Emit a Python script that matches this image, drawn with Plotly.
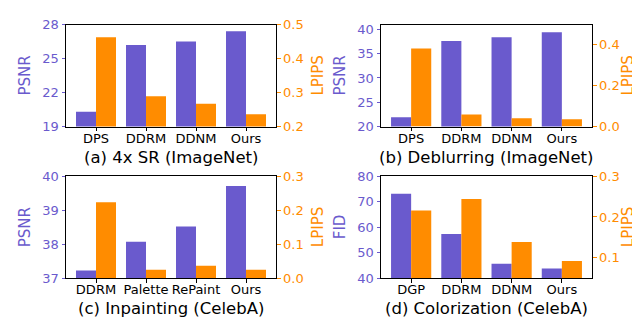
import plotly.graph_objects as go

PURPLE = "#6A5ACD"
ORANGE = "#FF8C00"

# ---- data ----
cats_a = ["DPS", "DDRM", "DDNM", "Ours"]
psnr_a = [20.3, 26.2, 26.5, 27.4]
lpips_a = [0.463, 0.289, 0.267, 0.236]

cats_b = ["DPS", "DDRM", "DDNM", "Ours"]
psnr_b = [21.9, 37.6, 38.4, 39.4]
lpips_b = [0.380, 0.059, 0.040, 0.036]

cats_c = ["DDRM", "Palette", "RePaint", "Ours"]
psnr_c = [37.23, 38.07, 38.52, 39.71]
lpips_c = [0.223, 0.025, 0.037, 0.025]

cats_d = ["DGP", "DDRM", "DDNM", "Ours"]
fid_d = [73.1, 57.3, 45.7, 43.8]
lpips_d = [0.216, 0.244, 0.139, 0.092]

left_ranges = [[19, 28], [20, 41], [37, 40], [40, 80]]
left_ticks = [[19, 22, 25, 28], [20, 25, 30, 35, 40], [37, 38, 39, 40], [40, 50, 60, 70, 80]]
right_ranges = [[0.2, 0.5], [0.0, 0.496], [0.0, 0.3], [0.05, 0.3]]
right_ticks = [[0.2, 0.3, 0.4, 0.5], [0.0, 0.2, 0.4], [0.0, 0.1, 0.2, 0.3], [0.1, 0.2, 0.3]]
left_titles = ["PSNR", "PSNR", "PSNR", "FID"]
subtitles = ["(a) 4x SR (ImageNet)", "(b) Deblurring (ImageNet)",
             "(c) Inpainting (CelebA)", "(d) Colorization (CelebA)"]

panels = [(cats_a, psnr_a, lpips_a), (cats_b, psnr_b, lpips_b),
          (cats_c, psnr_c, lpips_c), (cats_d, fid_d, lpips_d)]

W, H = 640, 324
# plot area boxes in pixels: (x0, x1, ytop, ybottom)
boxes = [(58, 268, 10, 117), (373, 584, 10, 117),
         (58, 268, 169, 276), (373, 584, 169, 276)]
right_title_off = [42, 36, 42, 36]

FONT = "DejaVu Sans"
fig = go.Figure()
layout = dict(
    width=W, height=H, margin=dict(l=0, r=0, t=0, b=0),
    paper_bgcolor="white", plot_bgcolor="white",
    showlegend=False, barmode="overlay",
    font=dict(family=FONT, size=13, color="black"),
)
annotations = []

for k, ((cats, left, right), box) in enumerate(zip(panels, boxes)):
    x0, x1, yt, yb = box
    xa = "x" if k == 0 else f"x{k+1}"
    ya = f"y{2*k+1}" if k > 0 else "y"
    yb2 = f"y{2*k+2}"
    fig.add_trace(go.Bar(x=cats, y=left, xaxis=xa, yaxis=ya, offset=-0.4, width=0.4,
                         marker=dict(color=PURPLE, line=dict(width=0))))
    fig.add_trace(go.Bar(x=cats, y=right, xaxis=xa, yaxis=yb2, offset=0.0, width=0.4,
                         marker=dict(color=ORANGE, line=dict(width=0))))
    xkey = "xaxis" if k == 0 else f"xaxis{k+1}"
    ykey = "yaxis" if k == 0 else f"yaxis{2*k+1}"
    y2key = f"yaxis{2*k+2}"
    ydom = [1 - yb / H, 1 - yt / H]
    layout[xkey] = dict(
        domain=[x0 / W, x1 / W], anchor=ya, type="category",
        range=[-0.6, 3.6], showline=True, linecolor="black", linewidth=1,
        mirror=True, ticks="outside", ticklen=3.5, tickwidth=0.8, tickcolor="black",
        showgrid=False, zeroline=False, tickfont=dict(size=13, color="black"),
        ticklabelstandoff=-4, fixedrange=True,
    )
    layout[ykey] = dict(
        domain=ydom, anchor=xa, range=left_ranges[k], tickvals=left_ticks[k],
        showline=True, linecolor="black", linewidth=1, ticks="outside",
        ticklen=3.5, tickwidth=0.8, tickcolor=PURPLE, showgrid=False, zeroline=False,
        tickfont=dict(size=13, color=PURPLE),
    )
    layout[y2key] = dict(
        domain=ydom, anchor=xa, overlaying=ya, side="right", range=right_ranges[k],
        tickvals=right_ticks[k], tickformat=".1f",
        showline=True, linecolor="black", linewidth=1, ticks="outside",
        ticklen=3.5, tickwidth=0.8, tickcolor=ORANGE, showgrid=False, zeroline=False,
        tickfont=dict(size=13, color=ORANGE),
    )
    ymid = 1 - (yt + yb) / 2 / H
    annotations.append(dict(text=left_titles[k], x=(x0 - 41) / W, y=ymid, xref="paper",
                            yref="paper", textangle=-90, showarrow=False,
                            xanchor="center", yanchor="middle",
                            font=dict(size=15, color=PURPLE, family=FONT)))
    annotations.append(dict(text="LPIPS", x=(x1 + right_title_off[k]) / W, y=ymid,
                            xref="paper", yref="paper", textangle=-90, showarrow=False,
                            xanchor="center", yanchor="middle",
                            font=dict(size=15, color=ORANGE, family=FONT)))
    annotations.append(dict(text=subtitles[k], x=(x0 + x1) / 2 / W, y=1 - (yb + 32) / H,
                            xref="paper", yref="paper", showarrow=False,
                            xanchor="center", yanchor="middle",
                            font=dict(size=16.5, color="black", family=FONT)))

layout["annotations"] = annotations
fig.update_layout(**layout)
fig.write_html("out.html")
